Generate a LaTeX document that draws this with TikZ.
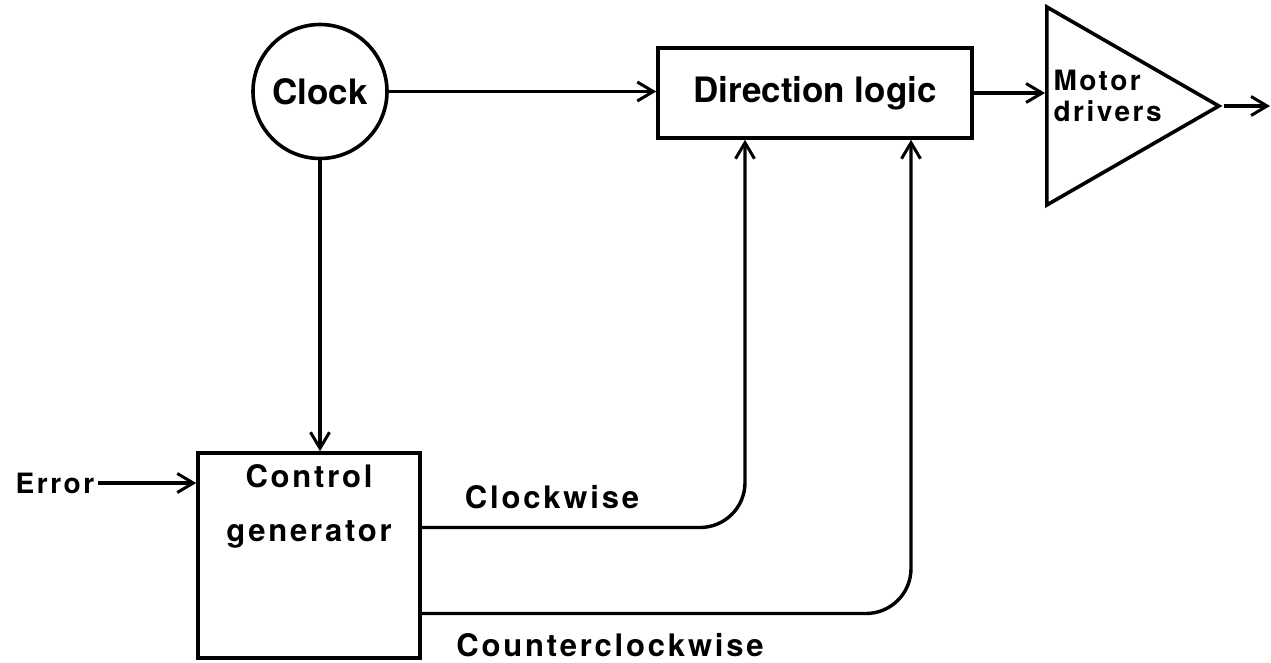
\documentclass[tikz,border=0pt]{standalone}
\usepackage{fontspec}
\setmainfont{TeX Gyre Heros}
\newfontfamily\spaced{TeX Gyre Heros}[LetterSpace=9]
\usetikzlibrary{shapes.geometric,arrows.meta}

\begin{document}
\begin{tikzpicture}[x=1pt,y=-1pt,
    block/.style={draw,line width=3.6pt,inner sep=0pt},
    flow/.style={line width=3.4pt,-{Straight Barb[length=16pt,width=19pt,line width=3pt]}},
    big/.style={font=\bfseries\fontsize{35}{40}\selectfont},
    lbl/.style={font=\spaced\bfseries\fontsize{31}{54}\selectfont},
    small/.style={font=\spaced\bfseries\fontsize{28}{31}\selectfont}]

\useasboundingbox (0,0) rectangle (1271,663);

\node[block,big,circle,minimum size=134pt] (clock) at (320,91.5) {Clock};
\node[block,big,minimum width=314pt,minimum height=90pt] (dir) at (815,93) {Direction logic};
\node[block,isosceles triangle,isosceles triangle stretches,minimum width=198pt,minimum height=172pt,anchor=west] (drv) at (1045,106) {};
\node[small,align=left,anchor=west] (drvtxt) at (1050,96) {Motor\\drivers};
\node[block,minimum width=222pt,minimum height=205pt] (ctrl) at (309,555.5) {};
\node[lbl,align=center] (ctrltxt) at (309,506) {Control\\generator};
\node[small] (err) at (55,483) {Error};
\node[lbl] (cw) at (552,497) {Clockwise};
\node[lbl] (ccw) at (610,645) {Counterclockwise};
\coordinate (out) at (1270,106);

\draw[flow] (clock.east) -- (clock.east -| dir.west);
\draw[flow] (clock.south) -- (clock.south |- ctrl.north);
\draw[flow] (err.east) -- (err.east -| ctrl.west);
\draw[flow] (dir.east) -- (dir.east -| drv.west);
\draw[flow] (drv.apex) -- (out);
\draw[flow,rounded corners=45pt] ([yshift=28pt]ctrl.east) -| ([xshift=-70pt]dir.south);
\draw[flow,rounded corners=45pt] ([yshift=-58pt]ctrl.east) -| ([xshift=96pt]dir.south);

\end{tikzpicture}
\end{document}
